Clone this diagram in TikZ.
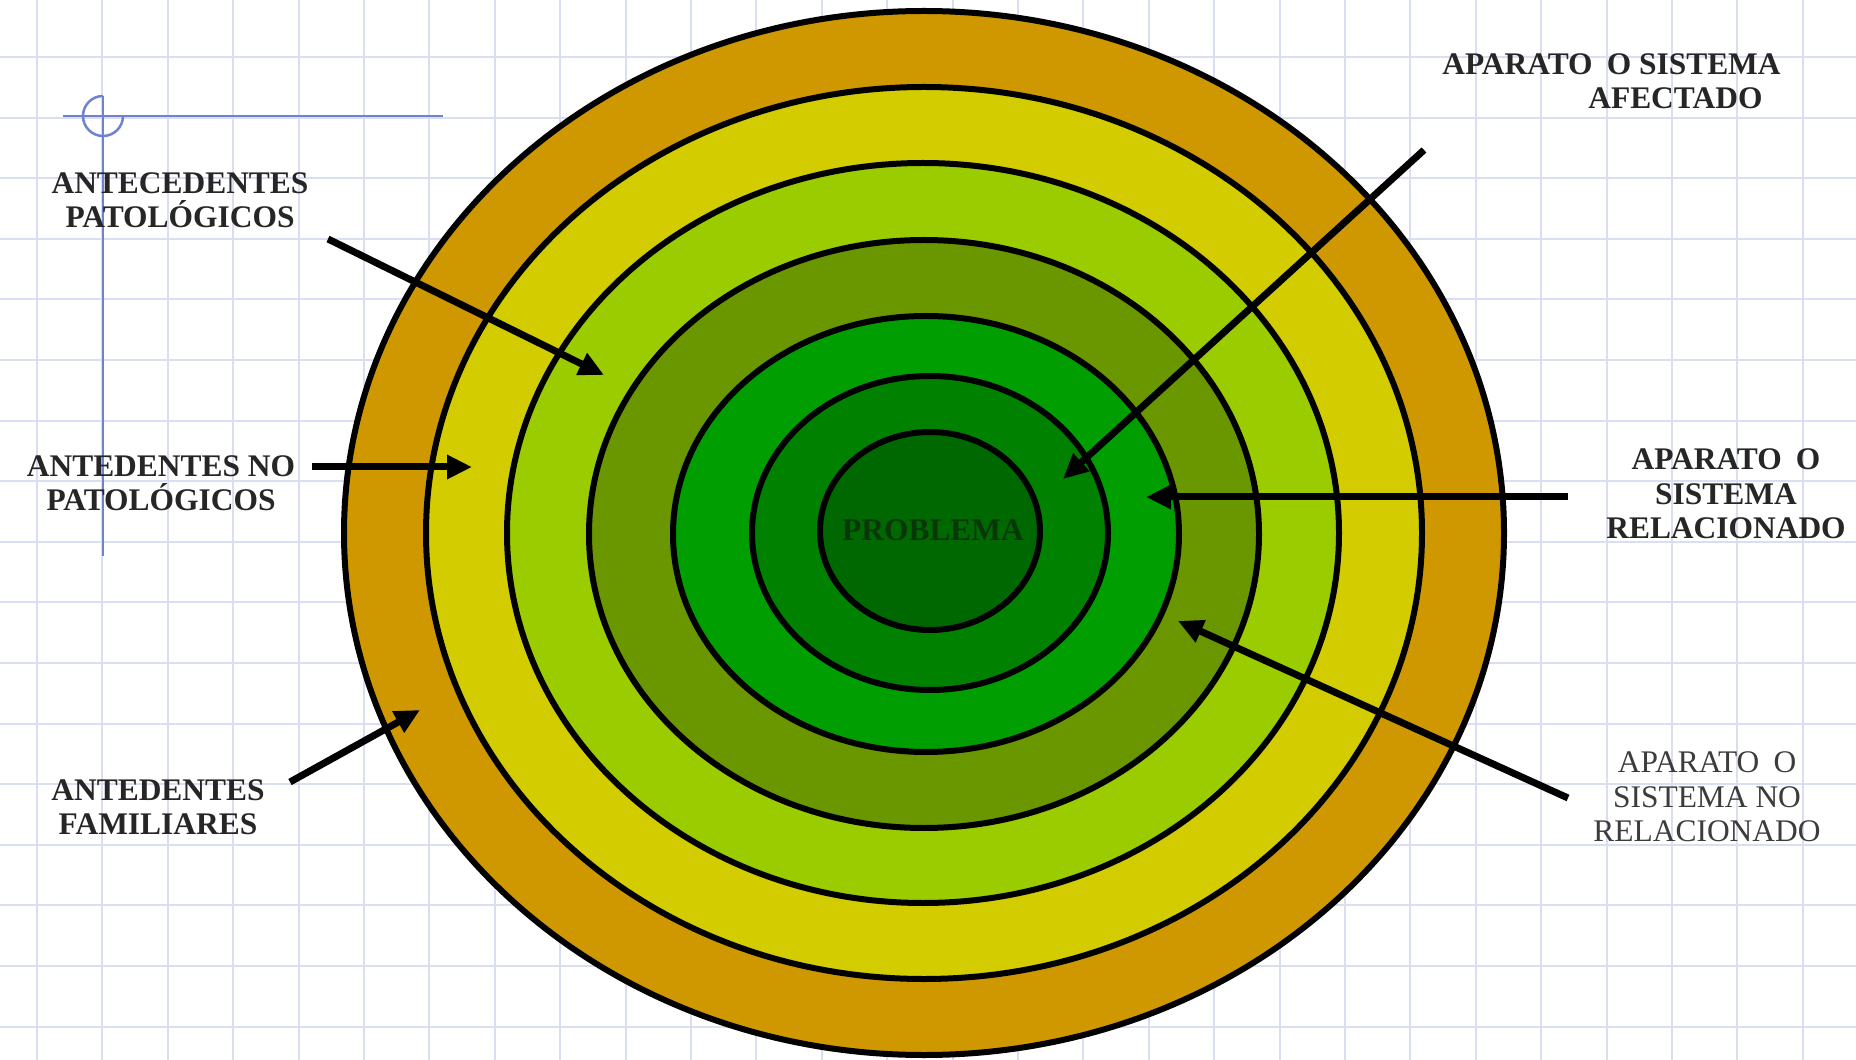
\documentclass[tikz,border=0pt]{standalone}
\usepackage{fontspec}
\setmainfont{Liberation Serif}
\usetikzlibrary{arrows.meta}
\definecolor{gridc}{RGB}{218,222,242}
\definecolor{crossc}{RGB}{110,130,210}
\definecolor{ringA}{RGB}{208,152,0}
\definecolor{ringB}{RGB}{210,204,0}
\definecolor{ringC}{RGB}{155,204,0}
\definecolor{ringD}{RGB}{106,150,0}
\definecolor{ringE}{RGB}{0,158,0}
\definecolor{ringF}{RGB}{0,130,0}
\definecolor{ringG}{RGB}{0,104,0}
\definecolor{probc}{RGB}{10,55,10}
\definecolor{greytext}{RGB}{60,60,60}
\begin{document}
\begin{tikzpicture}[x=0.02cm,y=-0.02cm,
  gridline/.style={gridc,line width=0.04cm},
  ring/.style={draw=black,line width=0.12cm},
  pointer/.style={line width=0.14cm,-{Triangle[length=0.5cm,width=0.46cm]}},
  lbl/.style={align=center,inner sep=0pt,font=\fontsize{17.9}{19.6}\selectfont\bfseries,text=black!85},
  lblreg/.style={align=center,inner sep=0pt,font=\fontsize{17.9}{19.6}\selectfont,text=greytext}]
\fill[white] (0,0) rectangle (1856,1060);
\useasboundingbox (0,0) rectangle (1856,1060);
% grid
\foreach \k in {0,...,27} \draw[gridline] ({37+65.4*\k},0) -- ({37+65.4*\k},1060);
\foreach \k in {-1,...,16} \draw[gridline] (0,{57+60.6*\k}) -- (1856,{57+60.6*\k});
% blue crosshair
\draw[crossc,line width=0.05cm] (63,116) -- (443,116);
\draw[crossc,line width=0.05cm] (103,96) -- (103,556);
\draw[crossc,line width=0.05cm] (123,116) arc[start angle=0,end angle=270,radius=20];
% rings
\fill[ringA,ring] (924,533) ellipse [x radius=580,y radius=522];
\fill[ringB,ring] (924,533) ellipse [x radius=498,y radius=446];
\fill[ringC,ring] (923,533) ellipse [x radius=416,y radius=370];
\fill[ringD,ring] (924,534) ellipse [x radius=335,y radius=294];
\fill[ringE,ring] (926,534) ellipse [x radius=253,y radius=218];
\fill[ringF,ring] (930,533) ellipse [x radius=178,y radius=157];
\fill[ringG,ring] (930,531) ellipse [x radius=110,y radius=99];
\node[lbl,text=probc] (prob) at (933,530) {PROBLEMA};
% labels
\node[lbl] (lAP) at (180,200) {ANTECEDENTES\\PATOLÓGICOS};
\node[lbl] (lNP) at (161,483) {ANTEDENTES NO\\PATOLÓGICOS};
\node[lbl] (lAF) at (158,807) {ANTEDENTES\\FAMILIARES};
\node[lbl,align=left,anchor=west] (lSA) at (1442,81) {APARATO\hspace{0.45em}O SISTEMA\\\hspace*{2.92cm}AFECTADO};
\node[lbl] (lSR) at (1726,494) {APARATO\hspace{0.45em}O\\SISTEMA\\RELACIONADO};
\node[lblreg] (lSN) at (1707,797) {APARATO\hspace{0.45em}O\\SISTEMA NO\\RELACIONADO};
% arrows
\coordinate (s1) at (328,239); \coordinate (t1) at (604,375);
\coordinate (s2) at (312,467); \coordinate (t2) at (472,467);
\coordinate (s3) at (290,782); \coordinate (t3) at (420,710);
\coordinate (s4) at (1424,150); \coordinate (t4) at (1063,479);
\coordinate (s5) at (1568,497); \coordinate (t5) at (1146,497);
\coordinate (s6) at (1568,798); \coordinate (t6) at (1178,621);
\draw[pointer] (s1) -- (t1);
\draw[pointer] (s2) -- (t2);
\draw[pointer] (s3) -- (t3);
\draw[pointer] (s4) -- (t4);
\draw[pointer] (s5) -- (t5);
\draw[pointer] (s6) -- (t6);
\end{tikzpicture}
\end{document}
